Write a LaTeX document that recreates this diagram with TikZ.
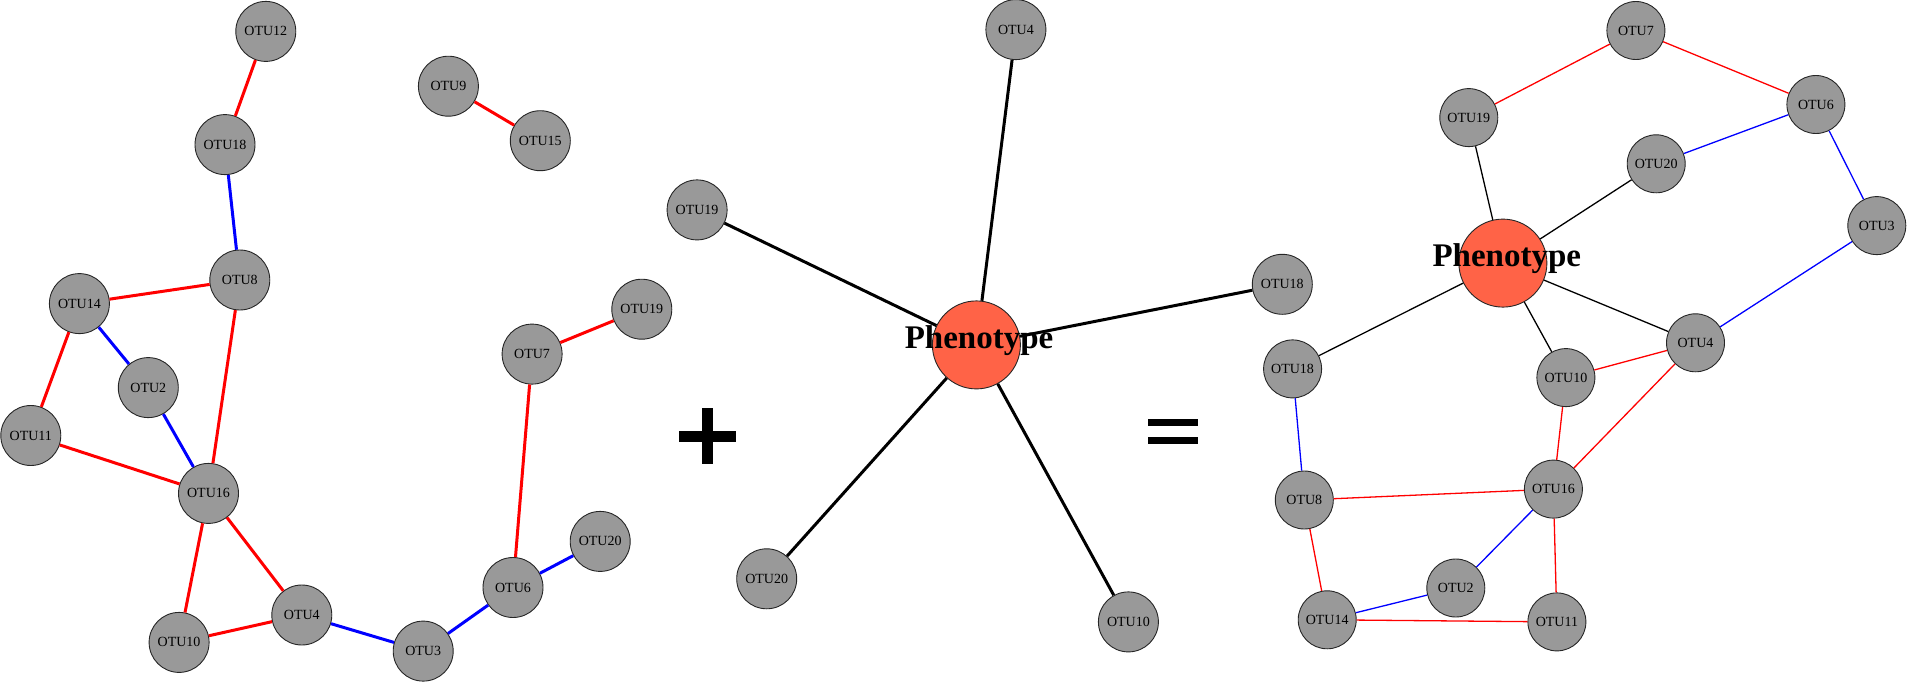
\documentclass[tikz,border=0pt]{standalone}
\usepackage{fontspec}
\setmainfont{Liberation Serif}
\definecolor{nodegray}{HTML}{999999}
\definecolor{phcol}{HTML}{FF6347}
\definecolor{edgered}{HTML}{FF0000}
\definecolor{edgeblue}{HTML}{0000FF}
\tikzset{
  otu/.style={circle, draw=black!85, line width=0.9pt, fill=nodegray, minimum size=60pt, inner sep=0pt, font=\fontsize{14}{16}\selectfont},
  otur/.style={otu, minimum size=58pt},
  pheno/.style={circle, draw=black!85, line width=0.9pt, fill=phcol, minimum size=88pt, inner sep=0pt},
  phtext/.style={font=\fontsize{33}{36}\selectfont\bfseries, inner sep=0pt, anchor=base},
  lred/.style={draw=edgered, line width=3pt},
  lblue/.style={draw=edgeblue, line width=3pt},
  mblack/.style={draw=black, line width=3pt},
  rred/.style={draw=edgered, line width=1.3pt},
  rblue/.style={draw=edgeblue, line width=1.3pt},
  rblack/.style={draw=black, line width=1.3pt},
  opsign/.style={fill=black},
}
\begin{document}
\begin{tikzpicture}[x=1pt,y=-1pt]
\useasboundingbox (0,0) rectangle (1907,683);
% ---------- left network ----------
\node[otu] (L12) at (265.8,31.4) {OTU12};
\node[otu] (L18) at (225,144.6) {OTU18};
\node[otu] (L9) at (448.4,86.2) {OTU9};
\node[otu] (L15) at (540.3,140.7) {OTU15};
\node[otu] (L8) at (239.8,280) {OTU8};
\node[otu] (L14) at (79.4,303.6) {OTU14};
\node[otu] (L2) at (148.3,387.6) {OTU2};
\node[otu] (L11) at (30.8,435.5) {OTU11};
\node[otu] (L16) at (208.5,493.4) {OTU16};
\node[otu] (L10) at (179.1,642.4) {OTU10};
\node[otu] (L4) at (301.8,615) {OTU4};
\node[otu] (L3) at (423.2,651.1) {OTU3};
\node[otu] (L6) at (513,587.5) {OTU6};
\node[otu] (L20) at (600.2,541.4) {OTU20};
\node[otu] (L7) at (532.1,354.1) {OTU7};
\node[otu] (L19) at (641.8,309.2) {OTU19};
\draw[lred] (L12) -- (L18);
\draw[lred] (L9) -- (L15);
\draw[lblue] (L18) -- (L8);
\draw[lred] (L14) -- (L8);
\draw[lred] (L8) -- (L16);
\draw[lblue] (L14) -- (L2);
\draw[lred] (L14) -- (L11);
\draw[lblue] (L2) -- (L16);
\draw[lred] (L11) -- (L16);
\draw[lred] (L16) -- (L10);
\draw[lred] (L16) -- (L4);
\draw[lred] (L10) -- (L4);
\draw[lblue] (L4) -- (L3);
\draw[lblue] (L3) -- (L6);
\draw[lblue] (L6) -- (L20);
\draw[lred] (L6) -- (L7);
\draw[lred] (L7) -- (L19);
% ---------- plus ----------
\fill[opsign] (679.3,430.7) rectangle (735.7,442.3);
\fill[opsign] (702,408.3) rectangle (713.3,464);
% ---------- middle network ----------
\node[otu] (M4) at (1015.9,29.6) {OTU4};
\node[otu] (M19) at (697.1,209.9) {OTU19};
\node[pheno] (Mph) at (976.4,344.9) {};
\node[otu] (M18) at (1282.3,284.3) {OTU18};
\node[otu] (M20) at (766.7,578.8) {OTU20};
\node[otu] (M10) at (1128.4,621.9) {OTU10};
\draw[mblack] (Mph) -- (M4);
\draw[mblack] (Mph) -- (M19);
\draw[mblack] (Mph) -- (M18);
\draw[mblack] (Mph) -- (M20);
\draw[mblack] (Mph) -- (M10);
\node[phtext] (MphT) at (979,348.4) {Phenotype};
% ---------- equals ----------
\fill[opsign] (1148,419) rectangle (1197.7,426);
\fill[opsign] (1148,436.7) rectangle (1197.7,443.7);
% ---------- right network ----------
\node[otur] (R7) at (1635.9,30.5) {OTU7};
\node[otur] (R19) at (1468.8,117.6) {OTU19};
\node[otur] (R6) at (1815.9,104.5) {OTU6};
\node[otur] (R20) at (1656.2,163.8) {OTU20};
\node[otur] (R3) at (1876.8,225.6) {OTU3};
\node[pheno] (Rph) at (1502.9,263.1) {};
\node[otur] (R18) at (1292.6,368.9) {OTU18};
\node[otur] (R10) at (1565.9,377.6) {OTU10};
\node[otur] (R4) at (1695.5,342.8) {OTU4};
\node[otur] (R16) at (1553.4,489.1) {OTU16};
\node[otur] (R8) at (1304.3,500) {OTU8};
\node[otur] (R2) at (1455.8,588) {OTU2};
\node[otur] (R14) at (1327.2,619.8) {OTU14};
\node[otur] (R11) at (1556.9,621.9) {OTU11};
\draw[rred] (R7) -- (R19);
\draw[rred] (R7) -- (R6);
\draw[rblue] (R6) -- (R20);
\draw[rblue] (R6) -- (R3);
\draw[rblue] (R3) -- (R4);
\draw[rblack] (Rph) -- (R19);
\draw[rblack] (Rph) -- (R20);
\draw[rblack] (Rph) -- (R18);
\draw[rblack] (Rph) -- (R10);
\draw[rblack] (Rph) -- (R4);
\draw[rred] (R10) -- (R4);
\draw[rred] (R4) -- (R16);
\draw[rred] (R10) -- (R16);
\draw[rblue] (R18) -- (R8);
\draw[rred] (R8) -- (R16);
\draw[rred] (R8) -- (R14);
\draw[rblue] (R16) -- (R2);
\draw[rred] (R16) -- (R11);
\draw[rblue] (R2) -- (R14);
\draw[rred] (R14) -- (R11);
\node[phtext] (RphT) at (1506.8,266.5) {Phenotype};
\end{tikzpicture}
\end{document}
